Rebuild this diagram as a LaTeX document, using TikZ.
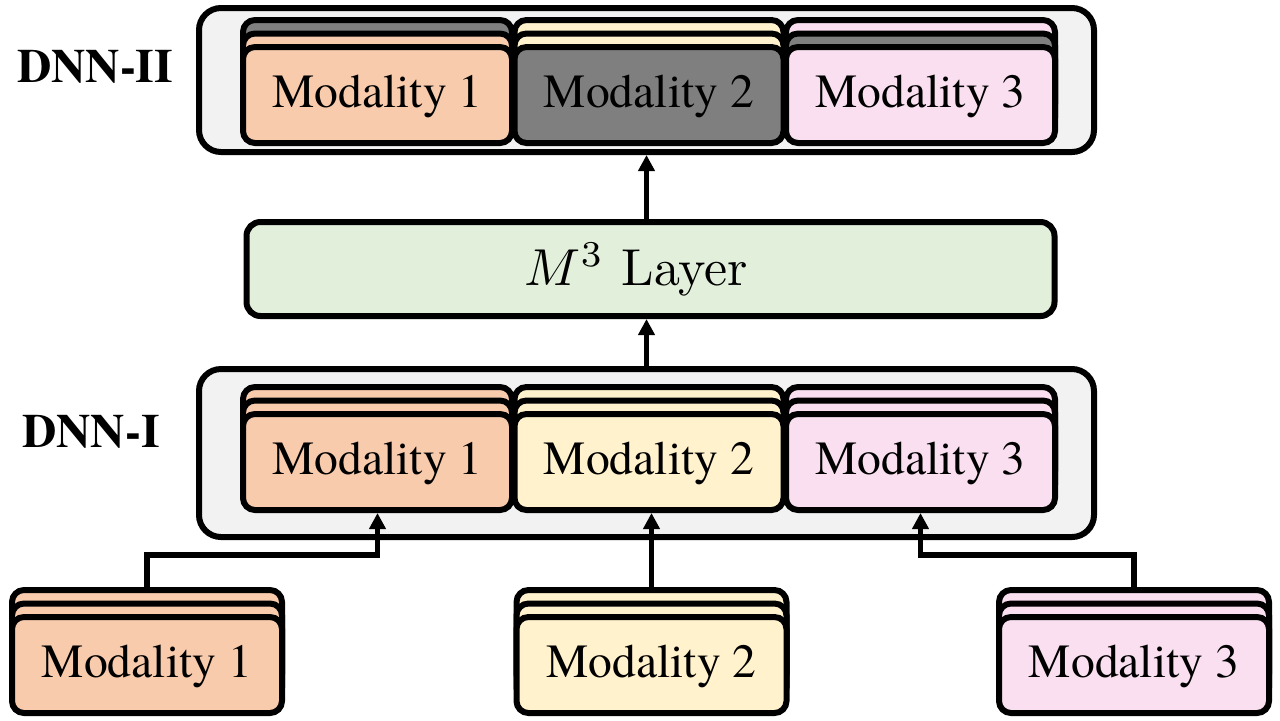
\RequirePackage{fix-cm}
\documentclass[tikz,border=0pt]{standalone}
\usepackage{fontspec}
\setmainfont{texgyretermes}[Extension=.otf, UprightFont=*-regular, BoldFont=*-bold, ItalicFont=*-italic, BoldItalicFont=*-bolditalic]
\newfontfamily\lmr{Latin Modern Roman}
\usetikzlibrary{arrows.meta}
\definecolor{peach}{HTML}{F8CBAD}
\definecolor{ylw}{HTML}{FFF2CC}
\definecolor{pnk}{HTML}{F9DFF0}
\definecolor{gry}{HTML}{7F7F7F}
\definecolor{outerg}{HTML}{F2F2F2}
\definecolor{grn}{HTML}{E2EFDA}
\tikzset{
  modbox/.style={draw=black, line width=3pt, rounded corners=6pt, minimum width=134.5pt,
    minimum height=48pt, inner sep=0pt, text depth=4pt, font=\rmfamily\fontsize{23.8}{28}\selectfont},
  inbox/.style={modbox, minimum width=135pt},
  grpbox/.style={draw=black, line width=3pt, fill=outerg, rounded corners=11pt,
    minimum width=447.5pt, inner sep=0pt},
  lyrbox/.style={draw=black, line width=3pt, fill=grn, rounded corners=7pt,
    minimum width=404pt, minimum height=47pt, inner sep=0pt},
  arr/.style={line width=2.8pt, -{Triangle[width=8pt,length=8pt]}},
  grplabel/.style={font=\rmfamily\bfseries\fontsize{23.8}{28}\selectfont, text depth=0pt}
}
% name, style, cx, ytop of back layer, back colour, middle colour, front colour, text
\newcommand\mstack[8]{%
  \node[#2, fill=#5, anchor=north] (#1c) at (#3,#4) {};
  \node[#2, fill=#6, anchor=north] (#1b) at (#3,#4+13.5) {};
  \node[#2, fill=#7, anchor=north] (#1) at (#3,#4+27) {#8};
}
\begin{document}
\begin{tikzpicture}[x=0.5pt, y=-0.5pt]
\useasboundingbox (0,0) rectangle (1280,720);

% group boxes
\node[grpbox, minimum height=72pt] (dnn2) at (646.5,80) {};
\node[grpbox, minimum height=84pt] (dnn1) at (646.5,453) {};
\node[lyrbox] (m3) at (650.5,269) {};
\node[anchor=base, inner sep=0pt] (m3t) at (636.5,285) {\scalebox{2.6}{\lmr\fontsize{10}{12}\selectfont $M^3$ Layer}};

% labels
\node[grplabel] (l2) at (95,66) {DNN-II};
\node[grplabel] (l1) at (91,431) {DNN-I};

% DNN-II stacks
\mstack{e1}{modbox}{377.5}{17}{gry}{peach}{peach}{Modality 1}
\mstack{e2}{modbox}{649}{17}{ylw}{ylw}{gry}{Modality 2}
\mstack{e3}{modbox}{920.5}{17}{pnk}{gry}{pnk}{Modality 3}

% DNN-I stacks
\mstack{d1}{modbox}{377.5}{384}{peach}{peach}{peach}{Modality 1}
\mstack{d2}{modbox}{649}{384}{ylw}{ylw}{ylw}{Modality 2}
\mstack{d3}{modbox}{920.5}{384}{pnk}{pnk}{pnk}{Modality 3}

% inputs
\mstack{in1}{inbox}{147}{587}{peach}{peach}{peach}{Modality 1}
\mstack{in2}{inbox}{651.5}{587}{ylw}{ylw}{ylw}{Modality 2}
\mstack{in3}{inbox}{1134}{587}{pnk}{pnk}{pnk}{Modality 3}

% connectors
\coordinate (j) at (0,555);
\draw[arr] (in1c.north) -- (in1c.north |- j) -| (d1.south);
\draw[arr] (in2c.north) -- (in2c.north |- d2.south);
\draw[arr] (in3c.north) -- (in3c.north |- j) -| (d3.south);
\draw[arr] (dnn1.north) -- (dnn1.north |- m3.south);
\draw[arr] (m3.north -| dnn2.south) -- (dnn2.south);
\end{tikzpicture}
\end{document}
